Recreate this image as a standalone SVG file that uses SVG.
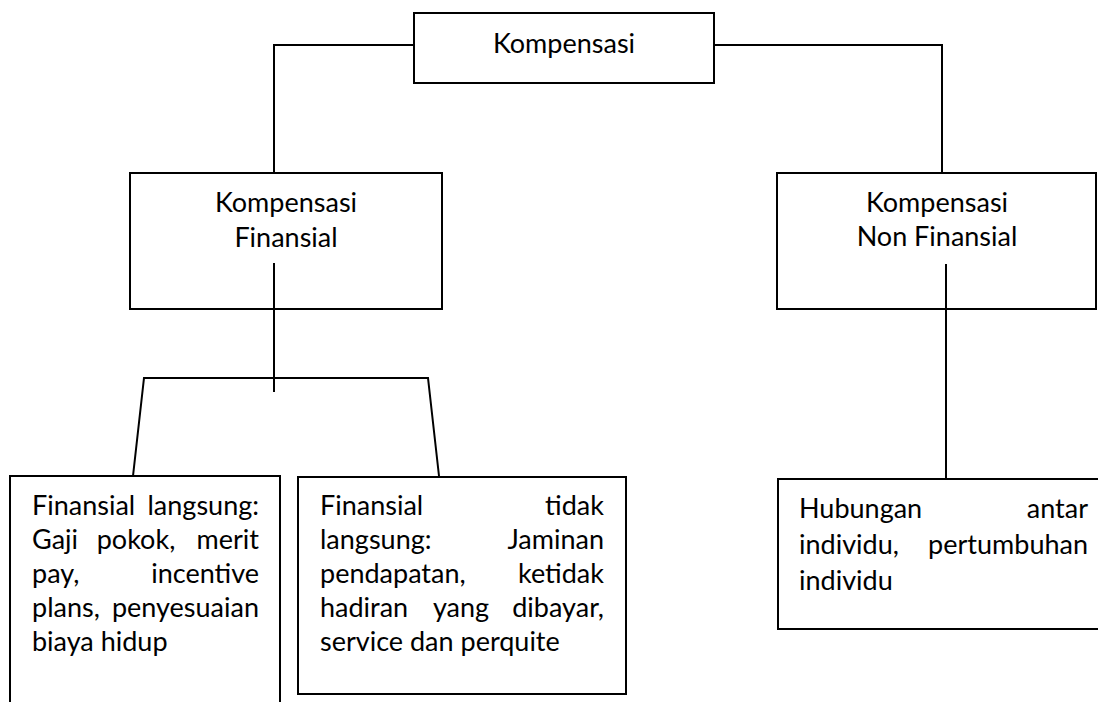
<svg xmlns="http://www.w3.org/2000/svg" width="1098" height="702" viewBox="0 0 1098 702">
<style>
.box{fill:#fff;stroke:#000;stroke-width:2}
.ln{fill:none;stroke:#000;stroke-width:2}
text{font-family:Lato,"Open Sans","Liberation Sans",sans-serif;font-size:27px;fill:#000}
.c{text-anchor:middle}
.e{text-anchor:end}
.m{text-anchor:middle}
</style>
<rect width="1098" height="702" fill="#fff"/>
<g id="connectors">
<polyline class="ln" points="414,45 274,45 274,173"/>
<polyline class="ln" points="714,45 942,45 942,173"/>
<polyline class="ln" points="133,476 144,378 428,378 439,476"/>
</g>
<g id="kompensasi">
<rect class="box" x="414" y="13" width="300" height="70"/>
<text class="c" x="564" y="53">Kompensasi</text>
</g>
<g id="finansial">
<rect class="box" x="130" y="173" width="312" height="136"/>
<text class="c" x="286" y="212">Kompensasi</text>
<text class="c" x="286" y="247">Finansial</text>
</g>
<g id="non-finansial">
<rect class="box" x="777" y="173" width="319" height="136"/>
<text class="c" x="937" y="212">Kompensasi</text>
<text class="c" x="937" y="246">Non Finansial</text>
</g>
<g id="connectors-inner">
<line class="ln" x1="274" y1="263" x2="274" y2="392"/>
<line class="ln" x1="946" y1="264" x2="946" y2="479"/>
</g>
<g id="finansial-langsung">
<rect class="box" x="10" y="476" width="270" height="240"/>
<text x="32" y="515">Finansial</text><text class="e" x="259" y="515">langsung:</text>
<text x="32" y="549">Gaji</text><text class="m" x="136" y="549">pokok,</text><text class="e" x="259" y="549">merit</text>
<text x="32" y="583">pay,</text><text class="e" x="259" y="583">incentive</text>
<text x="32" y="617">plans,</text><text class="e" x="259" y="617">penyesuaian</text>
<text x="32" y="651">biaya hidup</text>
</g>
<g id="finansial-tidak-langsung">
<rect class="box" x="298" y="477" width="328" height="217"/>
<text x="320" y="515">Finansial</text><text class="e" x="604" y="515">tidak</text>
<text x="320" y="549">langsung:</text><text class="e" x="604" y="549">Jaminan</text>
<text x="320" y="583">pendapatan,</text><text class="e" x="604" y="583">ketidak</text>
<text x="320" y="617">hadiran</text><text class="m" x="461" y="617">yang</text><text class="e" x="604" y="617">dibayar,</text>
<text x="320" y="651">service dan perquite</text>
</g>
<g id="non-finansial-detail">
<rect class="box" x="778" y="479" width="330" height="150"/>
<text x="799" y="518">Hubungan</text><text class="e" x="1088" y="518">antar</text>
<text x="799" y="554">individu,</text><text class="e" x="1088" y="554">pertumbuhan</text>
<text x="799" y="590">individu</text>
</g>
</svg>
